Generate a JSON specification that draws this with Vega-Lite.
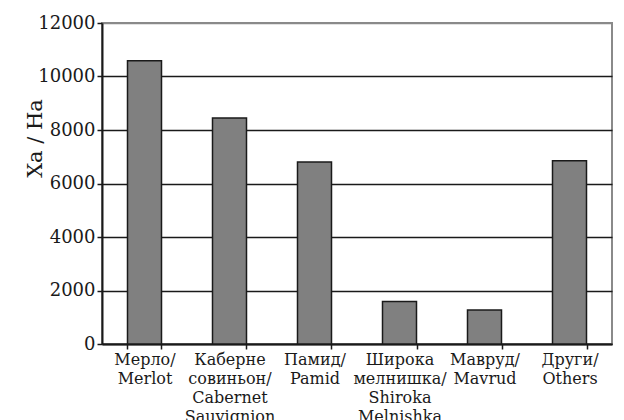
{
  "$schema": "https://vega.github.io/schema/vega-lite/v6.json",
  "width": 510,
  "height": 321,
  "autosize": "none",
  "padding": {"left": 102, "top": 23, "right": 12, "bottom": 76},
  "background": "white",
  "config": {
    "font": "DejaVu Serif",
    "view": {"stroke": "#8a8a8a", "strokeWidth": 2}
  },
  "data": {
    "values": [
      {"variety": "Мерло/|Merlot", "area": 10590},
      {"variety": "Каберне|совиньон/|Cabernet|Sauvignion", "area": 8450},
      {"variety": "Памид/|Pamid", "area": 6800},
      {"variety": "Широка|мелнишка/|Shiroka|Melnishka", "area": 1590},
      {"variety": "Мавруд/|Mavrud", "area": 1275},
      {"variety": "Други/|Others", "area": 6850}
    ]
  },
  "mark": {"type": "bar", "fill": "#808080", "stroke": "#1a1a1a", "strokeWidth": 1.5},
  "encoding": {
    "x": {
      "field": "variety",
      "type": "nominal",
      "sort": null,
      "scale": {"paddingInner": 0.6, "paddingOuter": 0.3},
      "axis": {
        "title": null,
        "labelAngle": 0,
        "labelExpr": "datum.value ? split(datum.value, '|') : ''",
        "labelFont": "DejaVu Serif",
        "labelFontSize": 16,
        "labelColor": "#1a1a1a",
        "labelLineHeight": 19,
        "labelBaseline": "top",
        "labelAlign": "center",
        "labelPadding": 2,
        "labelLimit": 0,
        "labelOverlap": false,
        "labelFlush": false,
        "tickBand": "extent",
        "tickSize": 5,
        "tickColor": "#1a1a1a",
        "tickWidth": 1.5,
        "domainColor": "#1a1a1a",
        "domainWidth": 2,
        "grid": false
      }
    },
    "y": {
      "field": "area",
      "type": "quantitative",
      "scale": {"domain": [0, 12000], "nice": false},
      "axis": {
        "title": "Ха / На",
        "titleFont": "DejaVu Serif",
        "titleFontSize": 21,
        "titleFontWeight": "normal",
        "titleColor": "#1a1a1a",
        "titleAngle": -90,
        "titleX": -67,
        "titleY": 115,
        "titleAlign": "center",
        "titleBaseline": "middle",
        "values": [0, 2000, 4000, 6000, 8000, 10000, 12000],
        "format": "d",
        "labelFont": "DejaVu Serif",
        "labelFontSize": 18,
        "labelColor": "#1a1a1a",
        "labelPadding": 2,
        "tickSize": 5,
        "tickColor": "#1a1a1a",
        "tickWidth": 1.5,
        "domainColor": "#1a1a1a",
        "domainWidth": 2,
        "grid": true,
        "gridColor": {"condition": {"test": "datum.value == 12000", "value": "#8a8a8a"}, "value": "#1a1a1a"},
        "gridWidth": 1.5,
        "gridOpacity": 1
      }
    }
  }
}
